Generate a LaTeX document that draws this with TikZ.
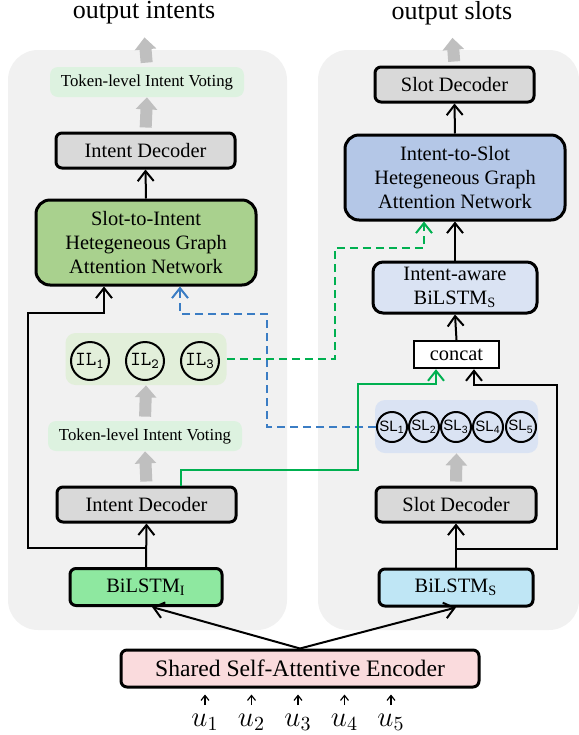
\documentclass[tikz,border=0pt]{standalone}
\usepackage{fontspec}
\setmainfont{Liberation Serif}
\setsansfont{Liberation Sans}
\usetikzlibrary{arrows.meta}

\definecolor{panelgray}{RGB}{241,241,241}
\definecolor{votegreen}{RGB}{221,242,224}
\definecolor{ilgreen}{RGB}{226,239,218}
\definecolor{slblue}{RGB}{218,227,243}
\definecolor{decgray}{RGB}{217,217,217}
\definecolor{s2igreen}{RGB}{169,209,142}
\definecolor{i2sblue}{RGB}{180,199,231}
\definecolor{bilgreen}{RGB}{142,232,160}
\definecolor{bilcyan}{RGB}{191,230,245}
\definecolor{encpink}{RGB}{250,219,221}
\definecolor{fatgray}{RGB}{191,191,191}
\definecolor{linkgreen}{RGB}{0,176,80}
\definecolor{linkblue}{RGB}{59,125,196}

\tikzset{
		box/.style={draw, line width=1.5pt, rounded corners=3pt, inner sep=0pt, align=center, font=\fontsize{10.2}{12}\selectfont},
		bigbox/.style={box, rounded corners=7pt, minimum width=110pt, minimum height=42.5pt},
		vote/.style={fill=votegreen, rounded corners=4pt, inner sep=0pt, minimum width=97pt, minimum height=15pt, font=\fontsize{8.4}{10}\selectfont},
		ilnode/.style={circle, draw, line width=1pt, minimum size=19pt, inner sep=0pt, font=\ttfamily\fontsize{10}{10}\selectfont},
		slnode/.style={circle, draw, line width=1pt, minimum size=15pt, inner sep=0pt, font=\sffamily\fontsize{7.5}{8}\selectfont},
		arrow/.style={line width=1pt, -{Straight Barb[length=5pt,width=8pt]}},
		fat/.style={line width=6pt, fatgray, -{Triangle[length=6pt,width=10.5pt]}, shorten <=2pt},
		bluedash/.style={arrow, linkblue, dash pattern=on 4pt off 2.5pt},
		greendash/.style={arrow, linkgreen, dash pattern=on 4pt off 2.5pt},
		uarrow/.style={line width=0.6pt, -{Straight Barb[length=2.5pt,width=4pt]}, shorten <=3pt, shorten >=3pt}
	}

\begin{document}
\begin{tikzpicture}[x=0.5pt, y=-0.5pt]
\useasboundingbox (0,0) rectangle (579,735);

% the two panels
\fill[panelgray, rounded corners=15pt] (8,50) rectangle (287,630);
\fill[panelgray, rounded corners=15pt] (318,50) rectangle (579,630);

% intent side
\node (outI) at (144,13) [font=\fontsize{13}{15}\selectfont] {output intents};
\node (voteTop) at (147,82) [vote] {Token-level Intent Voting};
\node (decI) at (145.5,150.5) [box, fill=decgray, minimum width=89.5pt, minimum height=17.5pt] {Intent Decoder};
\node (s2i) at (146,242.5) [bigbox, fill=s2igreen] {Slot-to-Intent\\Hetegeneous Graph\\Attention Network};

\node (ilbox) at (146,359) [fill=ilgreen, rounded corners=5pt, minimum width=80.5pt, minimum height=26pt] {};
\node (il1) at (90,361) [ilnode] {IL\textsubscript{1}};
\node (il2) at (145,361) [ilnode] {IL\textsubscript{2}};
\node (il3) at (200,361) [ilnode] {IL\textsubscript{3}};

\node (voteBot) at (145,436) [vote] {Token-level Intent Voting};
\node (decI2) at (146.5,504.5) [box, fill=decgray, minimum width=89.5pt, minimum height=17.5pt] {Intent Decoder};
\node (bilI) at (146,587) [box, fill=bilgreen, minimum width=76pt, minimum height=18.5pt] {BiLSTM\textsubscript{I}};

% slot side
\node (outS) at (452,13) [font=\fontsize{13}{15}\selectfont] {output slots};
\node (slotTop) at (454.5,84.5) [box, fill=decgray, minimum width=79.5pt, minimum height=17.5pt] {Slot Decoder};
\node (i2s) at (455,177.5) [bigbox, fill=i2sblue] {Intent-to-Slot\\Hetegeneous Graph\\Attention Network};
\node (ia) at (455,287.5) [box, fill=slblue, rounded corners=5pt, minimum width=82pt, minimum height=25.5pt] {Intent-aware\\BiLSTM\textsubscript{S}};
\node (concat) at (456.5,354.5) [draw, line width=1.2pt, fill=white, inner sep=0pt, minimum width=42.5pt, minimum height=13.5pt, font=\fontsize{10.2}{12}\selectfont] {concat};

\node (slbox) at (456.5,426.5) [fill=slblue, rounded corners=5pt, minimum width=81.5pt, minimum height=26.5pt] {};
\node (sl1) at (392,427) [slnode] {SL\textsubscript{1}};
\node (sl2) at (424,427) [slnode] {SL\textsubscript{2}};
\node (sl3) at (456,427) [slnode] {SL\textsubscript{3}};
\node (sl4) at (488,427) [slnode] {SL\textsubscript{4}};
\node (sl5) at (521,427) [slnode] {SL\textsubscript{5}};

\node (slotBot) at (456,504.5) [box, fill=decgray, minimum width=80pt, minimum height=17.5pt] {Slot Decoder};
\node (bilS) at (456,587.5) [box, fill=bilcyan, minimum width=77pt, minimum height=18.5pt] {BiLSTM\textsubscript{S}};

% encoder and inputs
\node (enc) at (300,668.5) [box, fill=encpink, minimum width=179pt, minimum height=18.5pt, font=\fontsize{11.8}{14}\selectfont] {Shared Self-Attentive Encoder};
\foreach \i in {1,...,5}
	\node (u\i) at (158.5+46.5*\i,726) [anchor=base, inner sep=1pt, font=\fontsize{14.4}{17}\selectfont] {$u_\i$};

\coordinate (jI) at (146,548);
\coordinate (jS) at (456,549);

% gray block arrows
\draw [fat, shorten >=3pt] (voteTop.north) to (outI.south);
\draw [fat] (decI.north) to (voteTop.south);
\draw [fat] (decI2.north) to (voteBot.south);
\draw [fat] (voteBot.north) to (ilbox.south);
\draw [fat, shorten >=3pt] (slotTop.north) to (outS.south);
\draw [fat] (slotBot.north) to (slbox.south);

% black arrows
\draw [arrow] (s2i.north) to (decI.south);
\draw [arrow] (bilI.north) to (decI2.south);
\draw [arrow] (jI) -| (28,313) -| ([xshift=-21pt]s2i.south);
\draw [arrow] (i2s.north) to (slotTop.south);
\draw [arrow] (ia.north) to (i2s.south);
\draw [arrow] (concat.north) to (ia.south);
\draw [arrow] (bilS.north) to (slotBot.south);
\draw [arrow] (jS) -| (557,385) -| ([xshift=8.75pt]concat.south);
\draw [arrow] (enc.north) to ([xshift=3pt]bilI.south);
\draw [arrow] (enc.north) to (bilS.south);

% cross links
\draw [bluedash] (sl1.west) -| (267,314) -| ([xshift=17pt]s2i.south);
\draw [greendash] (ilbox.east) -| (335,248) -| ([xshift=-15.5pt]i2s.south);
\draw [arrow, linkgreen] ([xshift=17pt]decI2.north) |- (358,470) |- (436,384) -- ([xshift=-10.25pt]concat.south);

\foreach \i in {1,...,5}
	\draw [uarrow] (u\i.north) to (u\i.north |- enc.south);

\end{tikzpicture}
\end{document}
